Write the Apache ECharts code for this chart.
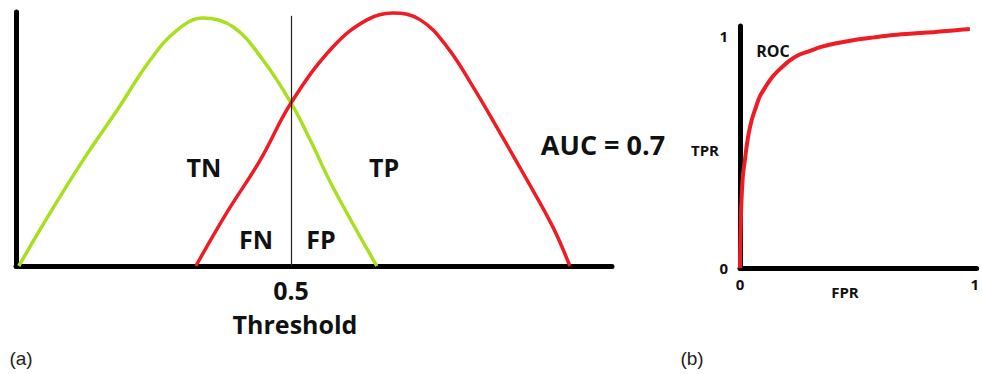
<!DOCTYPE html>
<html>
<head>
<meta charset="utf-8">
<script src="https://cdn.jsdelivr.net/npm/echarts@6/dist/echarts.min.js"></script>
<style>
  html, body { margin: 0; padding: 0; background: #fff; }
  #chart { width: 982px; height: 374px; }
</style>
</head>
<body>
<div id="chart"></div>
<script>
// ---- Data ----
// Panel (a): score distributions vs. threshold
const negClassX = [0.005, 0.062, 0.122, 0.184, 0.244, 0.293, 0.340, 0.395, 0.449, 0.500, 0.535, 0.576, 0.656];
const negClassY = [0.000, 0.209, 0.417, 0.614, 0.811, 0.929, 0.976, 0.941, 0.811, 0.642, 0.496, 0.311, 0.000];
const posClassX = [0.327, 0.383, 0.444, 0.500, 0.576, 0.638, 0.685, 0.735, 0.784, 0.831, 0.880, 0.929, 0.976, 1.007];
const posClassY = [0.000, 0.209, 0.417, 0.642, 0.862, 0.969, 0.996, 0.969, 0.862, 0.705, 0.524, 0.339, 0.154, 0.000];
const thresholdValue = 0.5;
const thresholdTickLabels = ['0.5'];

// Panel (b): ROC curve
const fprValues = [0, 0.0013, 0.0042, 0.0063, 0.0125, 0.0208, 0.0292, 0.0375, 0.05, 0.0667, 0.0833, 0.1083, 0.1375,
                   0.1708, 0.2083, 0.25, 0.2958, 0.3458, 0.4167, 0.4875, 0.5708, 0.6542, 0.7417, 0.8333, 0.9083, 0.9792];
const tprValues = [0, 0.099, 0.228, 0.293, 0.401, 0.466, 0.530, 0.582, 0.638, 0.690, 0.737, 0.780, 0.823,
                   0.858, 0.892, 0.918, 0.935, 0.953, 0.970, 0.983, 0.994, 1.004, 1.011, 1.017, 1.024, 1.030];
const rocTickLabels = ['0', '1'];

const regionLabels = ['TN', 'FN', 'FP', 'TP'];
const aucText = 'AUC = 0.7';

// ---- Build ----
const zip = (xs, ys) => xs.map((x, i) => [x, ys[i]]);
const GREEN = '#a6e01e';
const RED = '#ee1c25';
const FONT = '"Open Sans", Lato, sans-serif';
const txt = (text, x, y, size) => ({
  type: 'text', x: x, y: y,
  style: { text: text, font: 'bold ' + size + 'px ' + FONT, fill: '#111', textAlign: 'center', textVerticalAlign: 'middle' }
});

const chart = echarts.init(document.getElementById('chart'), null, { renderer: 'svg' });
chart.setOption({
  animation: false,
  backgroundColor: '#ffffff',
  grid: [
    { left: 16, top: 12, width: 596, height: 254 },
    { left: 740, top: 26, width: 242, height: 242 }
  ],
  xAxis: [
    {
      gridIndex: 0, type: 'value', min: 0, max: 1.0836, interval: 0.5,
      axisLine: { show: true, onZero: false, lineStyle: { color: '#000', width: 5 } },
      axisTick: { show: false }, splitLine: { show: false },
      axisLabel: {
        margin: 11, color: '#111', fontFamily: FONT, fontWeight: 'bold', fontSize: 25,
        formatter: v => (Math.abs(v - thresholdValue) < 1e-9 ? thresholdTickLabels[0] : '')
      }
    },
    {
      gridIndex: 1, type: 'value', min: 0, max: 1.0083, interval: 1,
      axisLine: { show: true, onZero: false, lineStyle: { color: '#000', width: 5 } },
      axisTick: { show: false }, splitLine: { show: false },
      axisLabel: {
        margin: 8, color: '#111', fontFamily: FONT, fontWeight: 'bold', fontSize: 15,
        showMaxLabel: false,
        formatter: v => (v === 0 ? rocTickLabels[0] : v === 1 ? rocTickLabels[1] : '')
      }
    }
  ],
  yAxis: [
    {
      gridIndex: 0, type: 'value', min: 0, max: 1,
      axisLine: { show: true, onZero: false, lineStyle: { color: '#000', width: 5 } },
      axisTick: { show: false }, splitLine: { show: false }, axisLabel: { show: false }
    },
    {
      gridIndex: 1, type: 'value', min: 0, max: 1.043, interval: 1,
      axisLine: { show: true, onZero: false, lineStyle: { color: '#000', width: 5 } },
      axisTick: { show: false }, splitLine: { show: false },
      axisLabel: {
        margin: 12, color: '#111', fontFamily: FONT, fontWeight: 'bold', fontSize: 15,
        showMaxLabel: false,
        formatter: v => (v === 0 ? rocTickLabels[0] : v === 1 ? rocTickLabels[1] : '')
      }
    }
  ],
  series: [
    {
      name: 'Negative', type: 'line', xAxisIndex: 0, yAxisIndex: 0, smooth: 0.4,
      data: zip(negClassX, negClassY), symbol: 'none',
      lineStyle: { color: GREEN, width: 3.5 }, z: 3
    },
    {
      name: 'Positive', type: 'line', xAxisIndex: 0, yAxisIndex: 0, smooth: 0.4,
      data: zip(posClassX, posClassY), symbol: 'none',
      lineStyle: { color: RED, width: 3.5 }, z: 3,
      markLine: {
        silent: true, symbol: 'none', label: { show: false },
        lineStyle: { color: '#222', width: 1.2, type: 'solid' },
        data: [[{ coord: [thresholdValue, 0] }, { coord: [thresholdValue, 0.985] }]]
      }
    },
    {
      name: 'ROC', type: 'line', xAxisIndex: 1, yAxisIndex: 1, smooth: 0.3,
      data: zip(fprValues, tprValues), symbol: 'none',
      lineStyle: { color: RED, width: 4 }, z: 3
    }
  ],
  graphic: [
    txt(regionLabels[0], 204, 167, 25),
    txt(regionLabels[1], 256, 239, 25),
    txt(regionLabels[2], 321, 239, 25),
    txt(regionLabels[3], 384, 167, 25),
    txt(aucText, 603, 144, 27),
    txt('Threshold', 295, 324, 25),
    txt('TPR', 705, 150, 15),
    txt('FPR', 845, 292, 15),
    txt('ROC', 773, 51, 16),
    { type: 'text', x: 21, y: 358, style: { text: '(a)', font: '19px "Liberation Sans", Arial, sans-serif', fill: '#222', textAlign: 'center', textVerticalAlign: 'middle' } },
    { type: 'text', x: 692, y: 358, style: { text: '(b)', font: '19px "Liberation Sans", Arial, sans-serif', fill: '#222', textAlign: 'center', textVerticalAlign: 'middle' } }
  ]
});
</script>
</body>
</html>
